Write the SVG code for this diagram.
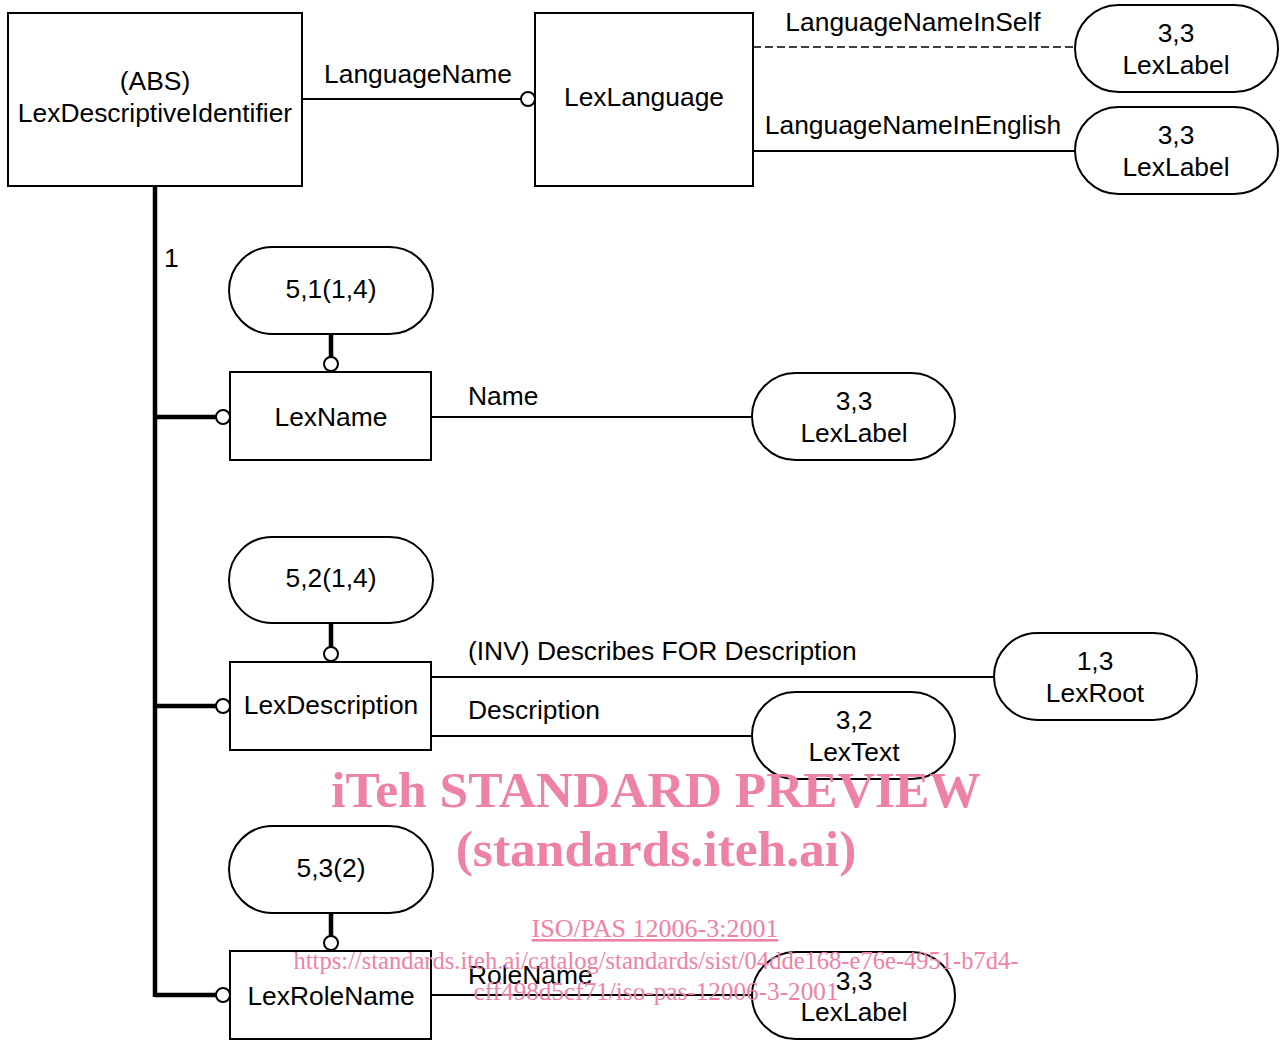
<svg xmlns="http://www.w3.org/2000/svg" width="1284" height="1041" viewBox="0 0 1284 1041">
<style>
.box{fill:#fff;stroke:#000;stroke-width:2}
.st{fill:#fff;stroke:#000;stroke-width:2}
.t{font-family:"Liberation Sans",Arial,sans-serif;font-size:26.4px;fill:#000}
.m{text-anchor:middle}
.ln{stroke:#000;stroke-width:2;fill:none}
.thick{stroke:#000;stroke-width:4.5;fill:none}
.dash{stroke:#000;stroke-width:1.5;stroke-dasharray:8,4;fill:none}
.c{fill:#fff;stroke:#000;stroke-width:2}
.wm{font-family:"Liberation Serif","Times New Roman",serif;fill:#ee82a6;text-anchor:middle}
</style>
<rect width="1284" height="1041" fill="#fff"/>
<g id="connectors">
<line class="ln" x1="302" y1="99" x2="527" y2="99"/>
<circle class="c" cx="528" cy="99" r="7"/>
<text class="t m" x="418" y="83">LanguageName</text>
<line class="dash" x1="753" y1="47" x2="1076" y2="47"/>
<text class="t m" x="913" y="31">LanguageNameInSelf</text>
<line class="ln" x1="753" y1="151" x2="1076" y2="151"/>
<text class="t m" x="913" y="134">LanguageNameInEnglish</text>
<line class="thick" x1="155" y1="186" x2="155" y2="997"/>
<text class="t" x="164" y="267">1</text>
<line class="thick" x1="155" y1="417" x2="217" y2="417"/>
<circle class="c" cx="223" cy="417" r="7"/>
<line class="thick" x1="155" y1="706" x2="217" y2="706"/>
<circle class="c" cx="223" cy="706" r="7"/>
<line class="thick" x1="155" y1="995" x2="217" y2="995"/>
<circle class="c" cx="223" cy="995" r="7"/>
<line class="thick" x1="331" y1="334" x2="331" y2="358"/>
<circle class="c" cx="331" cy="364" r="7"/>
<line class="thick" x1="331" y1="623" x2="331" y2="647"/>
<circle class="c" cx="331" cy="654" r="7"/>
<line class="thick" x1="331" y1="913" x2="331" y2="937"/>
<circle class="c" cx="331" cy="943" r="7"/>
<line class="ln" x1="431" y1="417" x2="753" y2="417"/>
<text class="t" x="468" y="405">Name</text>
<line class="ln" x1="431" y1="677" x2="995" y2="677"/>
<text class="t" x="468" y="660">(INV) Describes FOR Description</text>
<line class="ln" x1="431" y1="736" x2="753" y2="736"/>
<text class="t" x="468" y="719">Description</text>
<line class="ln" x1="431" y1="995" x2="753" y2="995"/>
<text class="t" x="468" y="984">RoleName</text>
</g>
<g id="n_ldi"><rect class="box" x="8" y="13" width="294" height="173"/><text class="t m" x="155" y="90">(ABS)</text><text class="t m" x="155" y="122">LexDescriptiveIdentifier</text></g>
<g id="n_lang"><rect class="box" x="535" y="13" width="218" height="173"/><text class="t m" x="644" y="106">LexLanguage</text></g>
<g id="n_ll1"><rect class="st" x="1075" y="5" width="203" height="87" rx="43.5"/><text class="t m" x="1176" y="42">3,3</text><text class="t m" x="1176" y="74">LexLabel</text></g>
<g id="n_ll2"><rect class="st" x="1075" y="107" width="203" height="87" rx="43.5"/><text class="t m" x="1176" y="144">3,3</text><text class="t m" x="1176" y="176">LexLabel</text></g>
<g id="n_c1"><rect class="st" x="229" y="247" width="204" height="87" rx="43.5"/><text class="t m" x="331" y="298">5,1(1,4)</text></g>
<g id="n_lexname"><rect class="box" x="230" y="372" width="201" height="88"/><text class="t m" x="331" y="426">LexName</text></g>
<g id="n_ll3"><rect class="st" x="752" y="373" width="203" height="87" rx="43.5"/><text class="t m" x="854" y="410">3,3</text><text class="t m" x="854" y="442">LexLabel</text></g>
<g id="n_c2"><rect class="st" x="229" y="537" width="204" height="86" rx="43"/><text class="t m" x="331" y="587">5,2(1,4)</text></g>
<g id="n_lexdesc"><rect class="box" x="230" y="662" width="201" height="88"/><text class="t m" x="331" y="714">LexDescription</text></g>
<g id="n_root"><rect class="st" x="994" y="633" width="203" height="87" rx="43.5"/><text class="t m" x="1095" y="670">1,3</text><text class="t m" x="1095" y="702">LexRoot</text></g>
<g id="n_text"><rect class="st" x="752" y="692" width="203" height="87" rx="43.5"/><text class="t m" x="854" y="729">3,2</text><text class="t m" x="854" y="761">LexText</text></g>
<g id="n_c3"><rect class="st" x="229" y="826" width="204" height="87" rx="43.5"/><text class="t m" x="331" y="877">5,3(2)</text></g>
<g id="n_lexrole"><rect class="box" x="230" y="951" width="201" height="88"/><text class="t m" x="331" y="1005">LexRoleName</text></g>
<g id="n_ll4"><rect class="st" x="752" y="952" width="203" height="87" rx="43.5"/><text class="t m" x="854" y="990">3,3</text><text class="t m" x="854" y="1021">LexLabel</text></g>
<g id="watermark">
<text class="wm" x="656" y="807" font-size="51.5" font-weight="bold">iTeh STANDARD PREVIEW</text>
<text class="wm" x="656" y="866" font-size="51.5" font-weight="bold">(standards.iteh.ai)</text>
<text class="wm" x="655" y="937" font-size="26" text-decoration="underline">ISO/PAS 12006-3:2001</text>
<text class="wm" x="656" y="969" font-size="26" textLength="725" lengthAdjust="spacingAndGlyphs">https://standards.iteh.ai/catalog/standards/sist/04dde168-e76e-4951-b7d4-</text>
<text class="wm" x="656" y="1000" font-size="26" textLength="365" lengthAdjust="spacingAndGlyphs">cff498d5cf71/iso-pas-12006-3-2001</text>
</g>
</svg>
